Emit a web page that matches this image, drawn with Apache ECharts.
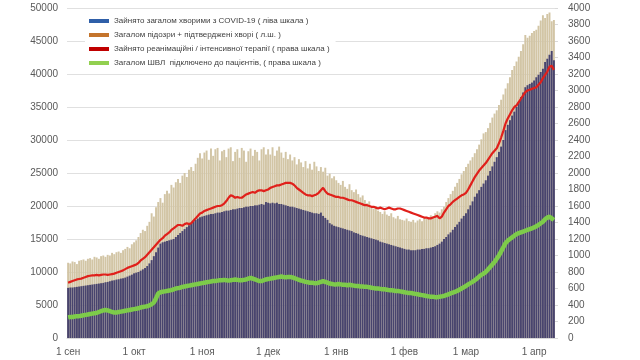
<!DOCTYPE html>
<html>
<head>
<meta charset="utf-8">
<script src="https://cdn.jsdelivr.net/npm/echarts@6/dist/echarts.min.js"></script>
<style>html,body{margin:0;padding:0;background:#fff}#c{width:640px;height:360px}</style>
</head>
<body>
<div id="c"></div>
<script>
// Daily values from 1 Sep 2020 to 10 Apr 2021
var startDate = '2020-09-01';
var monthLabels = {'09':'1 сен','10':'1 окт','11':'1 ноя','12':'1 дек','01':'1 янв','02':'1 фев','03':'1 мар','04':'1 апр'};

var seriesNames = [
  'Зайнято загалом хворими з COVID-19 ( ліва шкала )',
  'Загалом підозри + підтверджені хворі ( л.ш. )',
  'Зайнято реанімаційні / інтенсивної терапії ( права шкала )',
  'Загалом ШВЛ  підключено до пацієнтів, ( права шкала )'
];

// left scale: occupied by confirmed COVID-19 patients
var occupiedCovid = [
  7600,7650,7650,7700,7750,7800,7850,7900,7950,8000, 8050,8100,8150,8200,8250,8300,8350,8450,8500,8600, 8700,8750,8850,8900,9000,9050,9150,9300,9450,9600,
  9800,9900,10000,10200,10400,10600,10900,11300,11800,12400, 13000,13700,14300,14500,14600,14700,14800,14900,15000,15300, 15600,15900,16200,16500,16800,17100,17400,17700,17900,18100, 18300,
  18400,18500,18600,18700,18800,18800,18900,19000,19000,19100, 19200,19300,19300,19400,19500,19500,19600,19700,19700,19800, 19900,19900,20000,20000,20100,20100,20200,20300,20200,20600,
  20500,20400,20500,20400,20500,20300,20300,20200,20100,20000, 19900,19900,19800,19700,19600,19500,19400,19300,19200,19100, 19000,18900,18900,18800,19000,18500,18200,17900,17400,17200, 17000,
  16900,16800,16700,16600,16500,16400,16300,16200,16000,15900, 15800,15600,15500,15400,15300,15200,15100,15000,14900,14800, 14600,14500,14400,14300,14200,14100,14000,13900,13800,13700, 13600,
  13500,13400,13400,13300,13300,13300,13400,13400,13500,13500, 13600,13600,13700,13800,13900,14100,14300,14600,15000,15300, 15700,16000,16400,16800,17200,17600,18100,18500,
  18900,19500,20100,20700,21400,21900,22400,22900,23400,23900, 24600,25300,26000,26700,27400,28200,29000,30000,31500,32300, 33000,33700,34300,35000,35800,36500,37200,38000,38300,38500, 38700,
  39000,39500,39900,40300,40800,41800,42300,42900,43500,42100
];

// left scale: suspected + confirmed
var totalWithSuspected = [
  11400,11300,11600,11500,11200,11700,11800,11900,11700,12000, 12100,11900,12300,12200,12000,12400,12500,12300,12600,12500, 12900,12700,13000,13100,12900,13300,13500,13800,13600,14200,
  14500,14800,15300,15900,16400,16200,17000,17600,18900,18400, 19800,20600,21200,20500,21800,22300,21900,23200,22800,23600, 24100,23500,24600,25000,24400,25500,25900,25300,26400,27300, 28000,
  27200,28100,28400,27000,28700,27600,28600,28800,26900,28300, 28500,27400,28700,28900,26800,28200,28600,27300,28800,28400, 26700,28300,28700,27600,28500,28200,26900,28600,28900,27800,
  28600,27800,28900,27600,28400,29000,28100,27300,28200,27100, 27800,26900,27400,26300,27100,26600,25900,26800,25700,26400, 25500,26700,26000,25300,25900,25200,25800,24600,24900,24200, 24500,
  23900,23500,23200,23800,22900,22600,23300,22400,22100,22500, 21800,21300,21600,20900,20400,20700,19900,19600,19900,19300, 19100,18800,19200,18700,18500,18900,18300,18100,18500,18000, 17900,
  17800,18100,17700,17600,17900,17500,17800,18000,17700,18200, 18100,18300,18600,18400,18900,19200,19000,19500,19900,20600, 21200,21800,22300,22900,23500,24100,24800,25300,
  25900,26400,26900,27400,28000,28600,29300,30100,31000,31200, 31800,32600,33400,34000,34500,35300,36100,36900,37800,38600, 39500,40600,41200,41900,42600,43500,44500,45900,45500,45800, 46200,
  46500,46700,47300,48100,48900,48500,49100,49300,48000,48200
];

// right scale: ICU beds occupied
var icuBeds = [
  670,680,690,700,710,715,720,730,740,750, 755,760,760,765,760,765,770,770,765,770, 775,780,790,800,810,820,835,850,860,870,
  880,890,910,940,960,980,1010,1040,1070,1100, 1130,1160,1190,1210,1240,1260,1280,1310,1330,1350, 1370,1370,1360,1380,1390,1380,1390,1420,1450,1480, 1510,
  1520,1540,1550,1560,1570,1580,1590,1600,1600,1610, 1630,1660,1700,1730,1720,1700,1710,1700,1700,1720, 1740,1750,1760,1770,1760,1780,1790,1790,1780,1790,
  1800,1820,1830,1840,1850,1850,1860,1870,1880,1880, 1880,1870,1850,1820,1800,1780,1760,1740,1730,1730, 1720,1730,1740,1760,1790,1820,1780,1750,1740,1730, 1720,
  1710,1710,1700,1700,1690,1680,1670,1670,1660,1650, 1640,1630,1620,1610,1610,1600,1590,1590,1580,1570, 1580,1570,1560,1570,1580,1570,1560,1560,1570,1570, 1560,
  1550,1540,1530,1520,1510,1500,1490,1480,1470,1460, 1460,1450,1450,1460,1470,1480,1450,1470,1520,1560, 1600,1620,1650,1670,1690,1710,1730,1740,
  1760,1800,1850,1900,1950,1990,2030,2060,2090,2120, 2160,2200,2240,2270,2300,2360,2430,2510,2600,2660, 2710,2760,2800,2820,2860,2900,2940,2980,3000,3010, 3020,
  3030,3040,3070,3100,3150,3190,3230,3290,3300,3250
];

// right scale: ventilators connected
var ventilators = [
  250,255,255,260,265,265,270,275,280,285, 290,295,300,305,315,325,335,340,335,325, 315,310,310,315,320,325,330,335,340,345,
  350,355,360,370,375,380,385,395,410,430, 480,540,555,560,565,570,575,580,590,600, 605,610,620,625,630,635,640,645,650,655, 660,
  665,670,675,680,685,690,690,695,700,700, 705,700,695,700,705,710,705,700,700,705, 710,720,730,720,710,700,690,690,700,710,
  715,720,725,730,735,740,745,740,735,740, 740,735,725,715,705,695,690,680,675,670, 670,665,665,670,680,690,680,670,660,655, 650,
  650,655,650,645,645,640,645,640,635,630, 630,625,625,620,620,615,610,605,600,600, 595,590,590,585,580,580,575,570,570,565, 560,
  555,550,545,545,540,535,530,525,520,515, 510,505,500,500,495,495,500,505,510,520, 530,540,550,560,570,585,600,615,
  630,650,665,680,700,720,745,765,780,800, 830,860,890,920,960,1000,1050,1100,1150,1180, 1200,1220,1240,1260,1270,1280,1290,1300,1310,1320, 1330,
  1340,1355,1370,1390,1410,1440,1460,1470,1450,1430
];

var categories = [];
(function(){
  var d = new Date(startDate + 'T00:00:00Z');
  for (var i = 0; i < occupiedCovid.length; i++) {
    categories.push(d.toISOString().slice(0,10));
    d.setUTCDate(d.getUTCDate() + 1);
  }
})();

var font = 'Liberation Sans, Arial, sans-serif';
var plain = function(v){ return String(v); };
var chart = echarts.init(document.getElementById('c'), null, {renderer:'canvas'});
chart.setOption({
  animation: false,
  backgroundColor: '#ffffff',
  grid: {left: 67, right: 85, top: 8, bottom: 22},
  legend: {
    orient: 'vertical', left: 85, top: 13,
    backgroundColor: '#ffffff',
    padding: [3, 6, 3, 4],
    itemWidth: 20, itemHeight: 4, itemGap: 4,
    icon: 'rect',
    textStyle: {fontFamily: font, fontSize: 8, color: '#404040', lineHeight: 10},
    data: [
      {name: seriesNames[0], itemStyle: {color: '#2f5fa8'}},
      {name: seriesNames[1], itemStyle: {color: '#c4742c'}},
      {name: seriesNames[2], itemStyle: {color: '#c00000'}},
      {name: seriesNames[3], itemStyle: {color: '#92d050'}}
    ]
  },
  xAxis: {
    type: 'category', data: categories, boundaryGap: true,
    axisLine: {lineStyle: {color: '#d9d9d9'}},
    axisTick: {show: false},
    axisLabel: {
      interval: function(i, v){ return v.slice(8,10) === '01'; },
      formatter: function(v){ return monthLabels[v.slice(5,7)]; },
      fontFamily: font, fontSize: 10, color: '#595959', margin: 9
    }
  },
  yAxis: [
    {type: 'value', min: 0, max: 50000, interval: 5000,
     axisLine: {show: false}, axisTick: {show: false},
     axisLabel: {fontFamily: font, fontSize: 10, color: '#595959', margin: 9, formatter: plain},
     splitLine: {lineStyle: {color: '#e0e0e0'}}},
    {type: 'value', min: 0, max: 4000, interval: 200,
     axisLine: {show: false},
     axisTick: {show: true, length: 3, lineStyle: {color: '#d9d9d9'}},
     axisLabel: {fontFamily: font, fontSize: 10, color: '#595959', margin: 13, formatter: plain},
     splitLine: {show: false}}
  ],
  series: [
    {name: seriesNames[1], type: 'bar', data: totalWithSuspected, yAxisIndex: 0,
     barCategoryGap: '12%', itemStyle: {color: '#d2c5a5'}},
    {name: seriesNames[0], type: 'bar', data: occupiedCovid, yAxisIndex: 0,
     barGap: '-100%', barCategoryGap: '12%', itemStyle: {color: '#48446e'}},
    {name: seriesNames[2], type: 'line', data: icuBeds, yAxisIndex: 1,
     showSymbol: false, symbol: 'none', lineStyle: {color: '#e0201b', width: 2.2}, itemStyle: {color: '#e0201b'}},
    {name: seriesNames[3], type: 'line', data: ventilators, yAxisIndex: 1,
     showSymbol: false, symbol: 'none', lineStyle: {color: '#7dcb4a', width: 4.5}, itemStyle: {color: '#7dcb4a'}}
  ]
});
</script>
</body>
</html>
